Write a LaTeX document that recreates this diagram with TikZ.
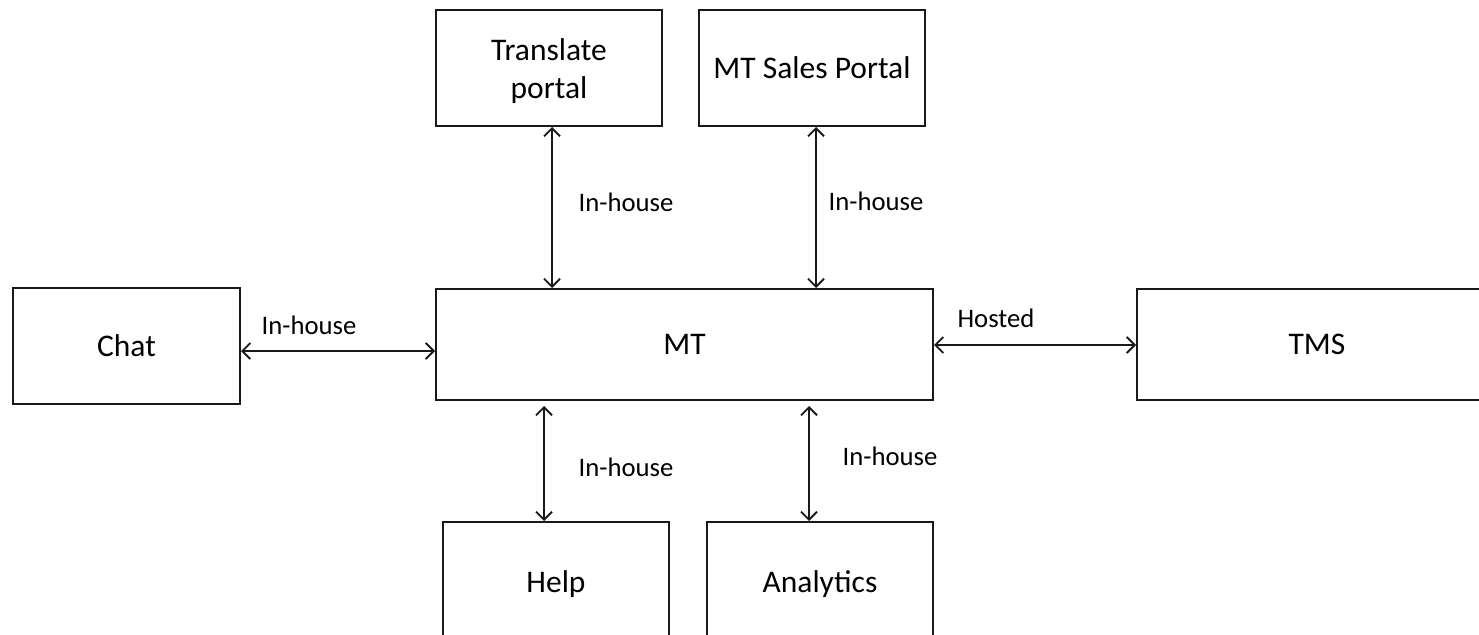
\documentclass[tikz,border=0pt]{standalone}
\usepackage{fontspec}
\setmainfont{Carlito}
\usetikzlibrary{arrows.meta}
\tikzset{
  box/.style={draw=black!90, line width=2pt, rectangle, inner sep=0pt, align=center,
    font=\fontsize{31.5}{38}\selectfont},
  lbl/.style={font=\fontsize{26.7}{32}\selectfont, inner sep=0pt},
  conn/.style={line width=1.8pt, draw=black!90,
    {Straight Barb[length=8pt,width=16pt,line width=1.8pt]}-{Straight Barb[length=8pt,width=16pt,line width=1.8pt]}}
}
\begin{document}
\begin{tikzpicture}[x=1pt,y=-1pt]
\useasboundingbox (0,0) rectangle (1479,634);
\clip (0,0) rectangle (1479,634);
\node[box, minimum width=226, minimum height=116] (tp) at (549,68) {\rule{0pt}{28pt}Translate\\portal};
\node[box, minimum width=226, minimum height=116] (sp) at (812,68) {MT Sales Portal};
\node[box, minimum width=227, minimum height=116] (chat) at (126.5,346) {Chat};
\node[box, minimum width=497, minimum height=111] (mt) at (684.5,344.5) {MT};
\node[box, minimum width=360, minimum height=111] (tms) at (1317,344.5) {TMS};
\node[box, minimum width=226, minimum height=124] (help) at (556,584) {Help};
\node[box, minimum width=226, minimum height=124] (an) at (820,584) {Analytics};

\draw[conn] ([xshift=3]tp.south) -- ([xshift=3]tp.south |- mt.north);
\draw[conn] ([xshift=4]sp.south) -- ([xshift=4]sp.south |- mt.north);
\draw[conn] ([yshift=-5]chat.east) -- ([yshift=-5]chat.east -| mt.west);
\draw[conn] ([yshift=-0.5]mt.east) -- ([yshift=-0.5]tms.west);
\draw[conn] ([xshift=-12,yshift=-5]mt.south -| help.north) -- ([xshift=-12]help.north);
\draw[conn] ([xshift=-11,yshift=-5]mt.south -| an.north) -- ([xshift=-11]an.north);

\node[lbl] (l1) at (626,202) {In-house};
\node[lbl] (l2) at (876,201) {In-house};
\node[lbl] (l3) at (309,325) {In-house};
\node[lbl] (l4) at (996,318) {Hosted};
\node[lbl] (l5) at (626,467) {In-house};
\node[lbl] (l6) at (890,456) {In-house};
\end{tikzpicture}
\end{document}
